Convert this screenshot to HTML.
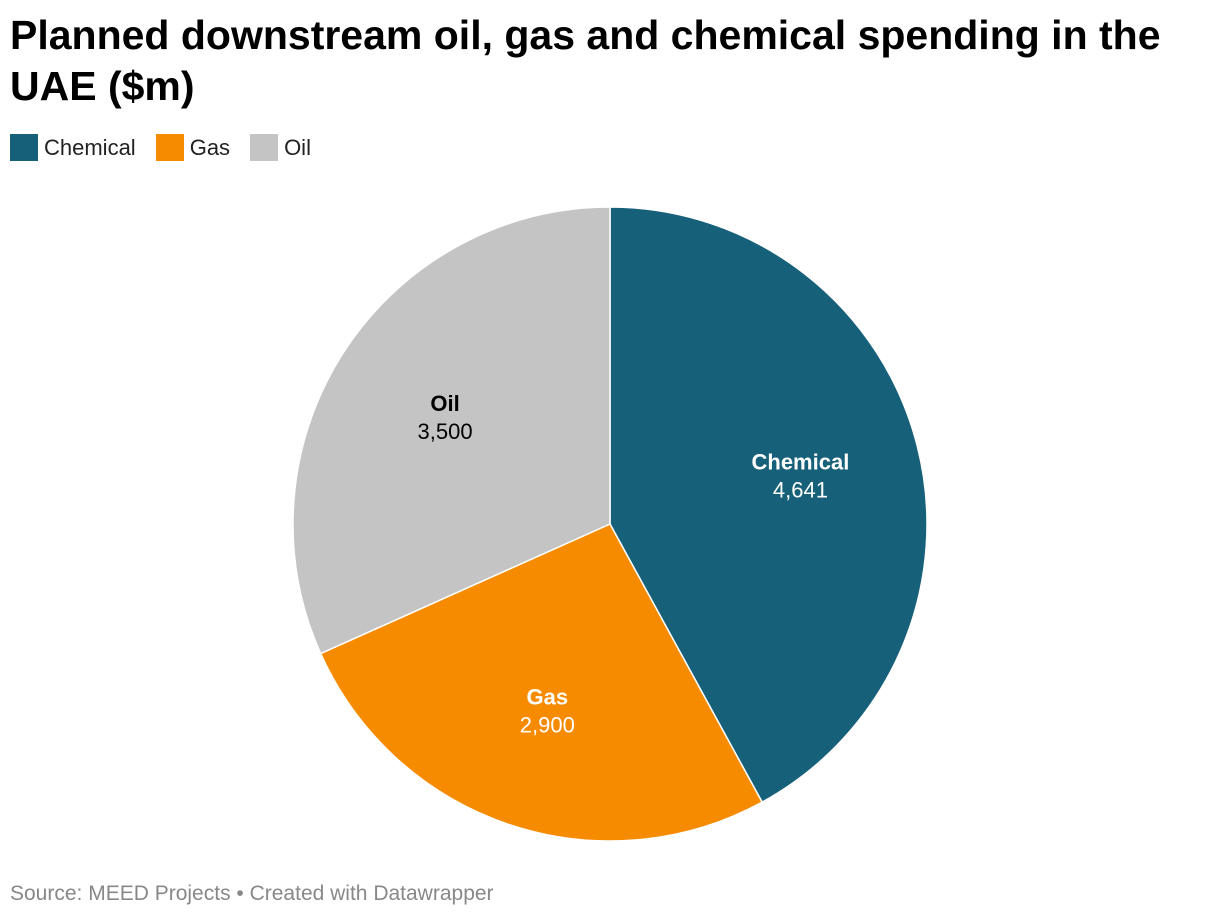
<!DOCTYPE html>
<html><head><meta charset="utf-8"><style>
body{margin:0;background:#fff;font-family:"Liberation Sans",sans-serif;}
#wrap{position:relative;width:1220px;height:918px;overflow:hidden}
h1{position:absolute;left:10px;top:10px;margin:0;font-size:41px;line-height:51px;font-weight:bold;color:#000;width:1210px;white-space:nowrap}
.leg{position:absolute;top:134px;left:10px;display:flex;font-size:22px;color:#222;align-items:center}
.leg span.sw{display:inline-block;width:28px;height:27px;margin-right:6px}
.leg .it{display:flex;align-items:center;margin-right:20px}
#src{position:absolute;left:10px;top:882px;font-size:21px;color:#888}
</style></head><body>
<div id="wrap">
<h1>Planned downstream oil, gas and chemical spending in the<br>UAE ($m)</h1>
<div class="leg">
<div class="it"><span class="sw" style="background:#17607a"></span>Chemical</div>
<div class="it"><span class="sw" style="background:#f78b00"></span>Gas</div>
<div class="it"><span class="sw" style="background:#c4c4c4"></span>Oil</div>
</div>
<svg id="pie" width="1220" height="918" style="position:absolute;left:0;top:0"></svg>
<div id="src">Source: MEED Projects • Created with Datawrapper</div>
</div>
<script>
const categories=["Chemical","Gas","Oil"];
const values=[4641,2900,3500];
const labels=["4,641","2,900","3,500"];
const colors=["#17607a","#f78b00","#c4c4c4"];
const textColors=["#fff","#fff","#000"];
const svg=document.getElementById('pie');
const NS="http://www.w3.org/2000/svg";
const cx=610,cy=524,R=317;
const total=values.reduce((a,b)=>a+b,0);
function pt(a,r){return [cx+r*Math.sin(a),cy-r*Math.cos(a)];}
let a0=0;
values.forEach((v,i)=>{
  const a1=a0+v/total*2*Math.PI;
  const p0=pt(a0,R),p1=pt(a1,R);
  const large=(a1-a0)>Math.PI?1:0;
  const path=document.createElementNS(NS,'path');
  path.setAttribute('d',`M${cx},${cy}L${p0[0]},${p0[1]}A${R},${R} 0 ${large} 1 ${p1[0]},${p1[1]}Z`);
  path.setAttribute('fill',colors[i]);
  path.setAttribute('stroke','#fff');
  path.setAttribute('stroke-width','1.5');
  
  
  svg.appendChild(path);
  const m=(a0+a1)/2;
  const lp=pt(m,R*0.62);
  const t1=document.createElementNS(NS,'text');
  t1.setAttribute('x',lp[0]);t1.setAttribute('y',lp[1]-6);
  t1.setAttribute('text-anchor','middle');t1.setAttribute('font-size','22');
  t1.setAttribute('font-weight','bold');t1.setAttribute('fill',textColors[i]);
  t1.setAttribute('font-family','Liberation Sans, sans-serif');
  t1.textContent=categories[i];
  
  
  svg.appendChild(t1);
  const t2=document.createElementNS(NS,'text');
  t2.setAttribute('x',lp[0]);t2.setAttribute('y',lp[1]+22);
  t2.setAttribute('text-anchor','middle');t2.setAttribute('font-size','22');
  t2.setAttribute('fill',textColors[i]);
  t2.setAttribute('font-family','Liberation Sans, sans-serif');
  t2.textContent=labels[i];
  
  
  svg.appendChild(t2);
  a0=a1;
});
</script>
</body></html>
